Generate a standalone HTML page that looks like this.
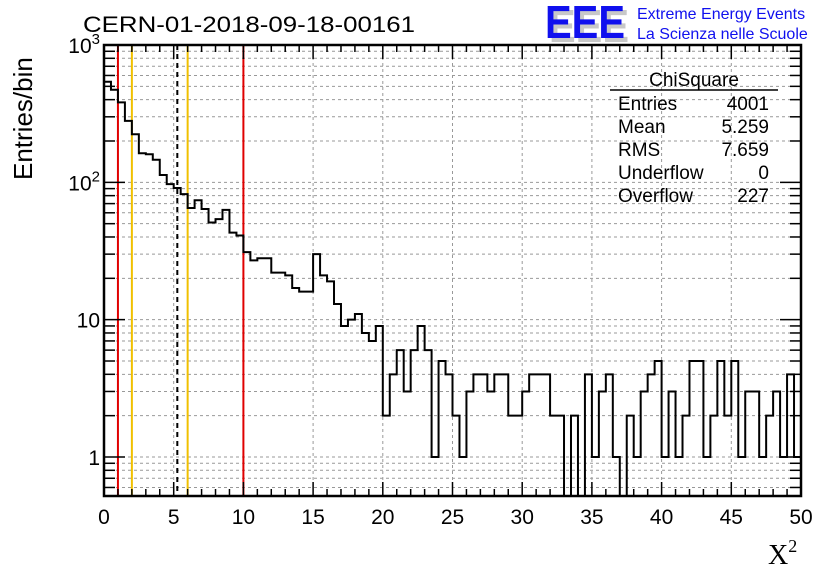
<!DOCTYPE html>
<html><head><meta charset="utf-8"><style>
body{margin:0;background:#fff}
svg{display:block;font-family:"Liberation Sans",sans-serif}
</style></head><body>
<svg id="c" width="836" height="572" xmlns="http://www.w3.org/2000/svg">
<rect width="836" height="572" fill="#fff"/>
<g id="grid"></g>
<g id="vlines"></g>
<g id="hist"></g>
<g id="axes"></g>
<text x="83" y="32" font-size="22" textLength="332" lengthAdjust="spacingAndGlyphs">CERN-01-2018-09-18-00161</text>
<text transform="translate(32,180) rotate(-90)" font-size="26">Entries/bin</text>
<text x="768" y="564" font-size="28" font-family="Liberation Serif,serif">X<tspan font-size="18" dy="-12">2</tspan></text>
<g>
<text x="549" y="42" font-size="46" font-weight="bold" fill="#c8c8c8" textLength="80" lengthAdjust="spacingAndGlyphs">EEE</text>
<text x="545" y="38" font-size="46" font-weight="bold" fill="#1010ee" textLength="80" lengthAdjust="spacingAndGlyphs">EEE</text>
<text x="637" y="19" font-size="16" fill="#1010ee">Extreme Energy Events</text>
<text x="637" y="39" font-size="16" fill="#1010ee">La Scienza nelle Scuole</text>
</g>
<g font-size="19">
<text x="694" y="86" text-anchor="middle">ChiSquare</text>
<line x1="610" y1="90" x2="778" y2="90" stroke="#000" stroke-width="1.5"/>
<text x="618" y="110">Entries</text><text x="769" y="110" text-anchor="end">4001</text>
<text x="618" y="133">Mean</text><text x="769" y="133" text-anchor="end">5.259</text>
<text x="618" y="156">RMS</text><text x="769" y="156" text-anchor="end">7.659</text>
<text x="618" y="179">Underflow</text><text x="769" y="179" text-anchor="end">0</text>
<text x="618" y="202">Overflow</text><text x="769" y="202" text-anchor="end">227</text>
</g>
</svg>
<script>
const counts=[540,472,382,280,224,163,160,146,113,97,91,82,65,74,64,51,54,63,43,41,31,27,28,28,22,22,21,17,16,16,30,21,19,13,9,10,11,8,7,9,2,4,6,3,6,9,6,1,5,4,2,1,3,4,4,3,4,4,2,2,3,4,4,4,2,2,0,2,0,4,1,3,4,1,0,2,1,3,4,5,1,3,1,2,5,5,1,2,5,2,5,1,3,3,1,2,3,1,4,1];
const xTicks=[0,5,10,15,20,25,30,35,40,45,50];
const yMajor=[1,10,100,1000];
const yBase=["1","10","10","10"];
const yExp=["","","2","3"];
const refLines=[{v:1,c:"#e00000",d:""},{v:10,c:"#e00000",d:""},{v:2,c:"#f0c000",d:""},{v:6,c:"#f0c000",d:""},{v:5.259,c:"#000",d:"5,4"}];
const X0=104,X1=801,Y0=45,Y1=496,XMIN=0,XMAX=50,YMIN=0.52,YMAX=1000;
const NS="http://www.w3.org/2000/svg";
const xs=v=>X0+(v-XMIN)/(XMAX-XMIN)*(X1-X0);
const ys=v=>{v=Math.max(v,YMIN);return Y1-(Math.log10(v)-Math.log10(YMIN))/(Math.log10(YMAX)-Math.log10(YMIN))*(Y1-Y0);};
function mk(p,t,a){const e=document.createElementNS(NS,t);for(const k in a)e.setAttribute(k,a[k]);p.appendChild(e);return e;}
const grid=document.getElementById('grid'),ax=document.getElementById('axes'),hist=document.getElementById('hist'),vl=document.getElementById('vlines');
xTicks.forEach(t=>{if(t>XMIN&&t<XMAX){const l=mk(grid,'line',{x1:xs(t),x2:xs(t),y1:Y0,y2:Y1,stroke:'#999','stroke-dasharray':'3,3'});}});
const yMinor=[];
for(let d=0.1;d<1000;d*=10){for(let m=1;m<10;m++){const v=+(m*d).toPrecision(3);if(v>=YMIN&&v<YMAX)yMinor.push(v);}}
yMinor.forEach(v=>{const l=mk(grid,'line',{x1:X0,x2:X1,y1:ys(v),y2:ys(v),stroke:'#999','stroke-dasharray':'3,3'});});
refLines.forEach(r=>{const l=mk(vl,'line',{x1:xs(r.v),x2:xs(r.v),y1:Y0,y2:Y1,stroke:r.c,'stroke-width':2,'stroke-dasharray':r.d});});
const bw=(XMAX-XMIN)/counts.length;let d=`M${xs(0)},${ys(counts[0])}`;
counts.forEach((c,i)=>{const y=ys(c);d+=`L${xs(i*bw)},${y}L${xs((i+1)*bw)},${y}`;});
const h=mk(hist,'path',{d:d,fill:'none',stroke:'#000','stroke-width':2});


const fr=mk(ax,'rect',{x:X0,y:Y0,width:X1-X0,height:Y1-Y0,fill:'none',stroke:'#000','stroke-width':2.5});


for(let t=XMIN;t<=XMAX;t++){const L=(t%5==0)?14:7;
mk(ax,'line',{x1:xs(t),x2:xs(t),y1:Y1,y2:Y1-L,stroke:'#000','stroke-width':1.5});
mk(ax,'line',{x1:xs(t),x2:xs(t),y1:Y0,y2:Y0+L,stroke:'#000','stroke-width':1.5});}
xTicks.forEach(t=>{const e=mk(ax,'text',{x:xs(t),y:Y1+28,'font-size':21,'text-anchor':'middle'});e.textContent=t;});
yMinor.forEach(v=>{const L=yMajor.includes(v)?21:11;
mk(ax,'line',{x1:X0,x2:X0+L,y1:ys(v),y2:ys(v),stroke:'#000','stroke-width':1.5});
mk(ax,'line',{x1:X1,x2:X1-L,y1:ys(v),y2:ys(v),stroke:'#000','stroke-width':1.5});});
mk(ax,'line',{x1:X0,x2:X0+21,y1:ys(1000),y2:ys(1000),stroke:'#000','stroke-width':1.5});
yMajor.forEach((v,i)=>{const e=mk(ax,'text',{x:X0-4,y:ys(v)+8,'font-size':21,'text-anchor':'end'});


const b=mk(e,'tspan',{});b.textContent=yBase[i];
if(yExp[i]){const s=mk(e,'tspan',{'font-size':15,dy:-9});s.textContent=yExp[i];}});
</script>
</body></html>
